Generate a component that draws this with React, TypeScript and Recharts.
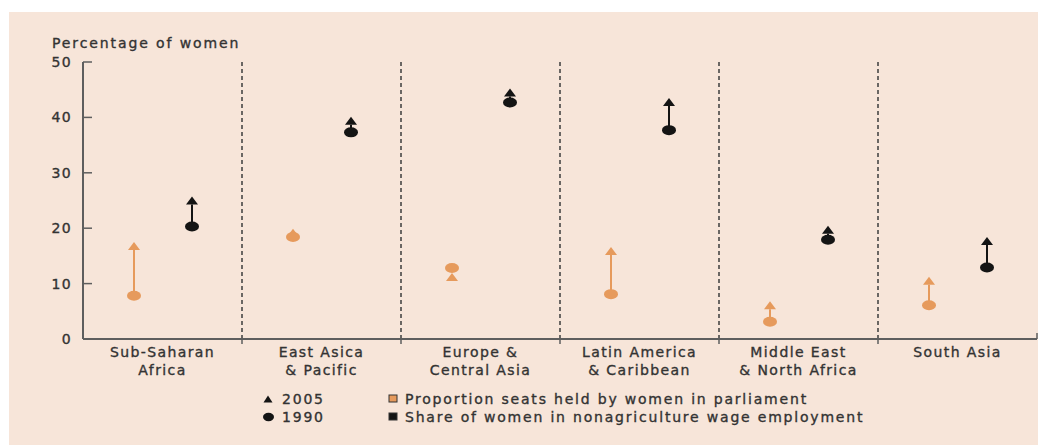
import React from "react";
import { ComposedChart, Bar, XAxis, YAxis, CartesianGrid } from "recharts";

const regions = [
  "Sub-Saharan\nAfrica",
  "East Asica\n& Pacific",
  "Europe &\nCentral Asia",
  "Latin America\n& Caribbean",
  "Middle East\n& North Africa",
  "South Asia",
];
const parliament1990 = [7.8, 18.4, 12.8, 8.1, 3.1, 6.1];
const parliament2005 = [16.8, 19.2, 11.2, 15.9, 6.1, 10.5];
const employment1990 = [20.3, 37.3, 42.7, 37.7, 17.9, 12.9];
const employment2005 = [25.0, 39.4, 44.5, 42.8, 19.7, 17.7];
const yTicks = [0, 10, 20, 30, 40, 50];
const yTitle = "Percentage of women";
const legendYears = ["2005", "1990"];
const legendSeries = [
  "Proportion seats held by women in parliament",
  "Share of women in nonagriculture wage employment",
];

const ORANGE = "#E69A5C";
const BLACK = "#141414";
const TEXT = "#333333";
const AXIS = "#5e5e5e";
const FONT = "DejaVu Sans";
const FS = 14;
const LS = 1.4;
const TS = 0.35;

const data = regions.map((region, i) => ({
  region,
  parliament: [parliament1990[i], parliament2005[i]],
  employment: [employment1990[i], employment2005[i]],
}));

const ArrowShape = (props: any) => {
  const { x, y, width, height, fill } = props;
  if (x == null || y == null) return null;
  const cx = x + width / 2;
  const y2005 = y;
  const y1990 = y + height;
  const triH = 8;
  const triW = 12;
  const base = y2005 + triH / 2;
  return (
    <g>
      {y1990 - base > 1 && (
        <line x1={cx} x2={cx} y1={y1990} y2={base} stroke={fill} strokeWidth={2} />
      )}
      <ellipse cx={cx} cy={y1990} rx={7} ry={5} fill={fill} />
      <polygon
        points={`${cx - triW / 2},${base} ${cx + triW / 2},${base} ${cx},${y2005 - triH / 2}`}
        fill={fill}
      />
    </g>
  );
};

const XTick = (props: any) => {
  const { x, y, payload, index, width } = props;
  const band = payload && payload.offset ? payload.offset * 2 : width / regions.length;
  const lines = String(payload.value).split("\n");
  return (
    <g>
      {index > 0 && (
        <line x1={x - band / 2} x2={x - band / 2} y1={y} y2={y + 5} stroke={AXIS} strokeWidth={1.5} />
      )}
      {index === regions.length - 1 && (
        <line x1={x + band / 2} x2={x + band / 2} y1={y} y2={y - 6} stroke={AXIS} strokeWidth={1.5} />
      )}
      <text
        x={x}
        y={y}
        textAnchor="middle"
        fill={TEXT}
        stroke={TEXT}
        strokeWidth={TS}
        fontSize={FS}
        letterSpacing={LS}
        fontFamily={FONT}
      >
        {lines.map((l, i) => (
          <tspan key={i} x={x} dy={18}>
            {l}
          </tspan>
        ))}
      </text>
    </g>
  );
};

const YTick = (props: any) => {
  const { x, y, payload } = props;
  const ax = x + 11;
  return (
    <g>
      {payload.value !== 0 && (
        <line x1={ax} x2={ax + 9} y1={y} y2={y} stroke={AXIS} strokeWidth={1.5} />
      )}
      <text
        x={x}
        y={y}
        dy={5}
        textAnchor="end"
        fill={TEXT}
        stroke={TEXT}
        strokeWidth={TS}
        fontSize={FS}
        letterSpacing={LS}
        fontFamily={FONT}
      >
        {payload.value}
      </text>
    </g>
  );
};

const dividerGen = ({ offset }: any) => {
  const out: number[] = [];
  for (let i = 1; i < regions.length; i++) {
    out.push(offset.left + (offset.width * i) / regions.length);
  }
  return out;
};

const legendText = {
  fill: TEXT,
  stroke: TEXT,
  strokeWidth: TS,
  fontSize: FS,
  letterSpacing: 1.8,
  fontFamily: FONT,
};

export default function App() {
  return (
    <div
      style={{
        position: "relative",
        marginTop: 4,
        marginLeft: 1,
        width: 1037,
        height: 433,
        background: "#F7E5D9",
      }}
    >
      <ComposedChart
        width={1037}
        height={433}
        data={data}
        margin={{ top: 50, right: 9, left: 0, bottom: 0 }}
        barGap={38}
      >
        <CartesianGrid
          horizontal={false}
          vertical={true}
          verticalCoordinatesGenerator={dividerGen}
          stroke="#3c3c3c"
          strokeWidth={1.5}
          strokeDasharray="4 3"
        />
        <XAxis
          dataKey="region"
          type="category"
          height={106}
          axisLine={{ stroke: AXIS, strokeWidth: 2 }}
          tickLine={false}
          tickSize={0}
          tickMargin={0}
          interval={0}
          tick={<XTick />}
        />
        <YAxis
          type="number"
          domain={[0, 50]}
          ticks={yTicks}
          width={74}
          axisLine={{ stroke: AXIS, strokeWidth: 2 }}
          tickLine={false}
          tickSize={0}
          tickMargin={11}
          interval={0}
          tick={<YTick />}
        />
        <Bar dataKey="parliament" barSize={20} fill={ORANGE} shape={<ArrowShape />} isAnimationActive={false} />
        <Bar dataKey="employment" barSize={20} fill={BLACK} shape={<ArrowShape />} isAnimationActive={false} />
      </ComposedChart>
      <svg width={260} height={30} style={{ position: "absolute", left: 38, top: 20 }}>
        <text x={5} y={16} {...legendText} letterSpacing={1.9}>
          {yTitle}
        </text>
      </svg>
      <svg width={700} height={40} style={{ position: "absolute", left: 250, top: 378 }}>
        <polygon points="4.5,12.5 13.5,12.5 9,5.5" fill={BLACK} />
        <text x={23} y={14} {...legendText}>
          {legendYears[0]}
        </text>
        <ellipse cx={9.5} cy={27} rx={5.5} ry={4.2} fill={BLACK} />
        <text x={23} y={32} {...legendText}>
          {legendYears[1]}
        </text>
        <rect x={130} y={5} width={8} height={7} fill={ORANGE} stroke="#333" strokeWidth={1} />
        <text x={146} y={14} {...legendText}>
          {legendSeries[0]}
        </text>
        <rect x={130} y={23} width={8} height={7} fill={BLACK} stroke="#333" strokeWidth={1} />
        <text x={146} y={32} {...legendText}>
          {legendSeries[1]}
        </text>
      </svg>
    </div>
  );
}
